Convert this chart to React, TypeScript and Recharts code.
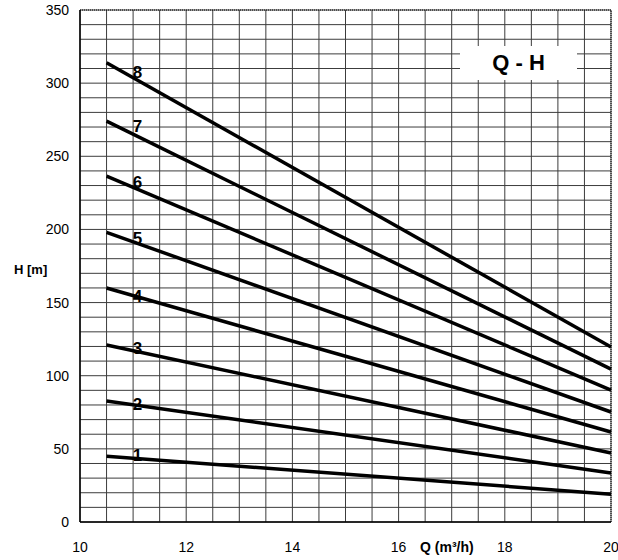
import { LineChart, Line, XAxis, YAxis, CartesianGrid, ReferenceLine } from 'recharts'

// pump curves Q-H, one line per stage count
const Q = [10.5, 20]
const H1 = [45, 19]
const H2 = [82.7, 33.5]
const H3 = [121, 47.2]
const H4 = [160, 61.5]
const H5 = [198, 75.2]
const H6 = [236.5, 90.2]
const H7 = [274, 104.5]
const H8 = [314, 119.6]

const X_TICKS = [10, 12, 14, 16, 18, 20]
const Y_TICKS = [0, 50, 100, 150, 200, 250, 300, 350]
const X_GRID = [10, 10.5, 11, 11.5, 12, 12.5, 13, 13.5, 14, 14.5, 15, 15.5, 16, 16.5, 17, 17.5, 18, 18.5, 19, 19.5, 20]
const Y_GRID = [0, 10, 20, 30, 40, 50, 60, 70, 80, 90, 100, 110, 120, 130, 140, 150, 160, 170, 180, 190, 200, 210, 220, 230, 240, 250, 260, 270, 280, 290, 300, 310, 320, 330, 340, 350]

const SERIES = [
  { key: 'h1', name: '1', values: H1, dy: -1 },
  { key: 'h2', name: '2', values: H2, dy: 3 },
  { key: 'h3', name: '3', values: H3, dy: 4 },
  { key: 'h4', name: '4', values: H4, dy: 9 },
  { key: 'h5', name: '5', values: H5, dy: 6 },
  { key: 'h6', name: '6', values: H6, dy: 6 },
  { key: 'h7', name: '7', values: H7, dy: 5 },
  { key: 'h8', name: '8', values: H8, dy: 10 },
]

const data = Q.map((q, i) => {
  const row: Record<string, number> = { q }
  SERIES.forEach((s) => (row[s.key] = s.values[i]))
  return row
})

const FONT = '"Liberation Sans", Arial, sans-serif'

export default function App() {
  return (
    <div style={{ position: 'absolute', left: 0, top: 0, width: 618, height: 560, fontFamily: FONT, background: '#fff' }}>
      <LineChart width={618} height={560} data={data} margin={{ top: 10, right: 7, left: 0, bottom: 0 }}>
        <CartesianGrid
          stroke="#3c3c3c"
          strokeWidth={1}
          horizontalValues={Y_GRID}
          verticalValues={X_GRID}
        />
        <XAxis
          dataKey="q"
          type="number"
          domain={[10, 20]}
          ticks={X_TICKS}
          interval={0}
          height={38}
          tickLine={false}
          tickSize={18}
          tickMargin={2}
          axisLine={{ stroke: '#000', strokeWidth: 1.5 }}
          tick={{ fill: '#000', fontSize: 14, fontFamily: FONT }}
        />
        <YAxis
          type="number"
          domain={[0, 350]}
          ticks={Y_TICKS}
          interval={0}
          width={80}
          tickLine={false}
          tickSize={9}
          tickMargin={2}
          axisLine={{ stroke: '#000', strokeWidth: 1.5 }}
          tick={{ fill: '#000', fontSize: 14, fontFamily: FONT }}
        />
        {/* dotted top and right border */}
        <ReferenceLine y={350} stroke="#000" strokeDasharray="1 1" />
        <ReferenceLine x={20} stroke="#000" strokeDasharray="1 1" />
        {SERIES.map((s) => (
          <Line
            key={s.key}
            dataKey={s.key}
            stroke="#000"
            strokeWidth={3.5}
            dot={false}
            isAnimationActive={false}
            label={(p: any) =>
              p.index === 0 ? (
                <text
                  key={s.key + '-lbl'}
                  x={p.x + 31}
                  y={p.y + s.dy}
                  textAnchor="middle"
                  dominantBaseline="central"
                  fontSize={17}
                  fontWeight="bold"
                  fontFamily={FONT}
                  fill="#000"
                >
                  {s.name}
                </text>
              ) : (
                <g key={s.key + '-none'} />
              )
            }
          />
        ))}
      </LineChart>

      {/* title box */}
      <div
        style={{
          position: 'absolute',
          left: 460,
          top: 46,
          width: 117,
          height: 34,
          background: '#fff',
          display: 'flex',
          alignItems: 'center',
          justifyContent: 'center',
          fontWeight: 'bold',
          fontSize: 22,
          color: '#000',
        }}
      >
        Q - H
      </div>

      {/* axis titles */}
      <div style={{ position: 'absolute', left: 14, top: 262, fontWeight: 'bold', fontSize: 13, color: '#000' }}>
        H [m]
      </div>
      <div
        style={{
          position: 'absolute',
          left: 420,
          top: 539,
          fontWeight: 'bold',
          fontSize: 14,
          color: '#000',
          background: '#fff',
        }}
      >
        Q (m³/h)
      </div>
    </div>
  )
}
